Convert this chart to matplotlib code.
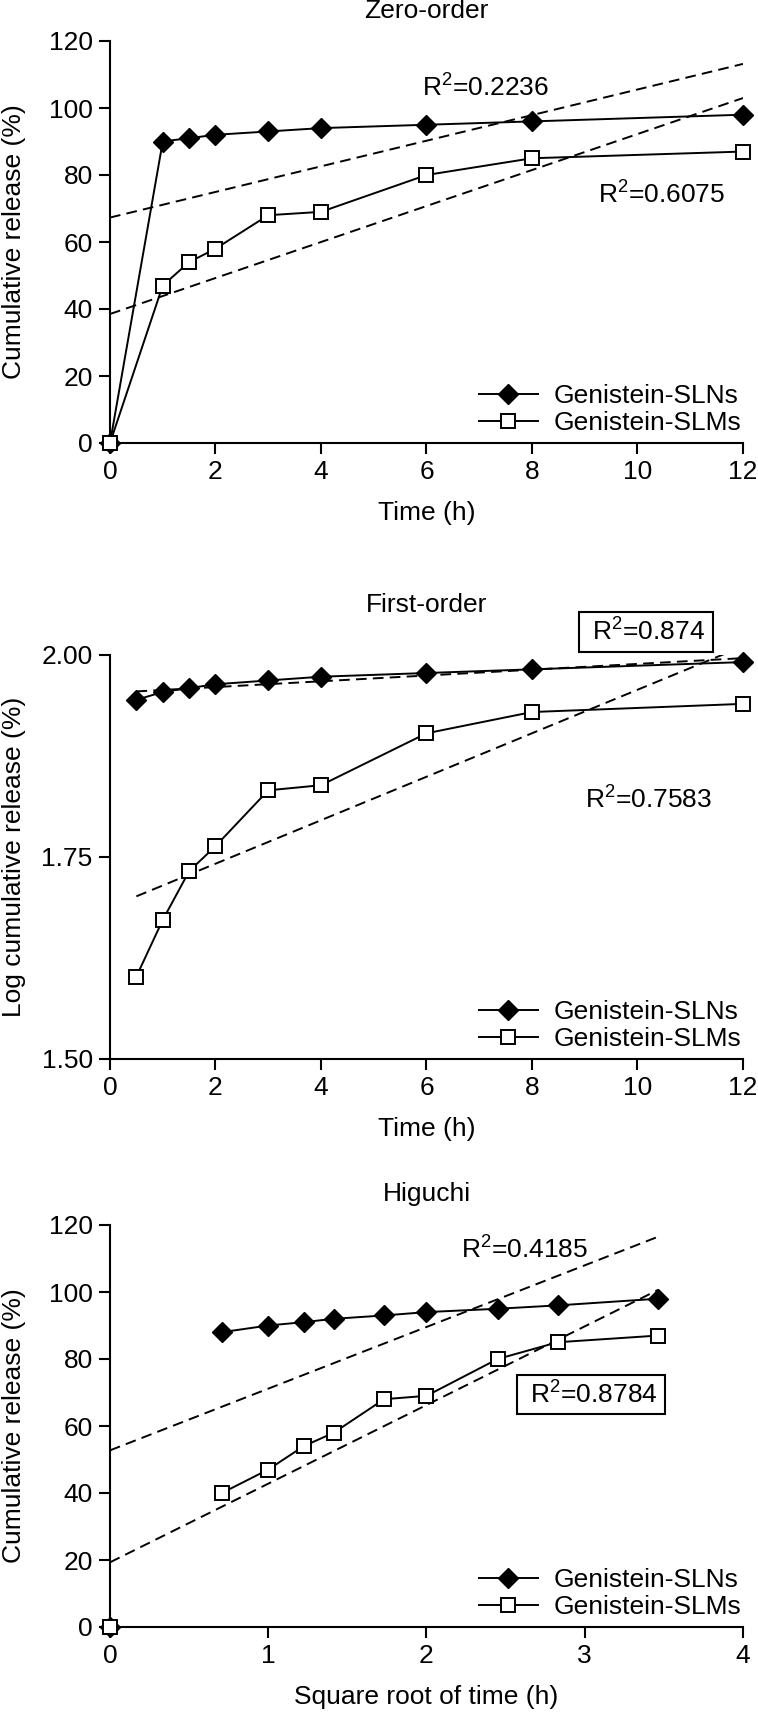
import numpy as np
import matplotlib
matplotlib.use('Agg')
import matplotlib.pyplot as plt

plt.rcParams['font.family'] = ['Liberation Sans', 'DejaVu Sans']
plt.rcParams['mathtext.default'] = 'regular'
FS = 19
plt.rcParams['font.size'] = FS

# ---------------- data ----------------
time_h = [0, 0.5, 1, 1.5, 2, 3, 4, 6, 8, 12]
sln_release = [0, 88, 90, 91, 92, 93, 94, 95, 96, 98]
slm_release = [0, 40, 47, 54, 58, 68, 69, 80, 85, 87]
series_labels = ['Genistein-SLNs', 'Genistein-SLMs']
panel_titles = ['Zero-order', 'First-order', 'Higuchi']
x_labels = ['Time (h)', 'Time (h)', 'Square root of time (h)']
y_labels = ['Cumulative release (%)', 'Log cumulative release (%)', 'Cumulative release (%)']
r2_sln = ['R$^2$=0.2236', 'R$^2$=0.874', 'R$^2$=0.4185']
r2_slm = ['R$^2$=0.6075', 'R$^2$=0.7583', 'R$^2$=0.8784']
x_ticks = [[0, 2, 4, 6, 8, 10, 12], [0, 2, 4, 6, 8, 10, 12], [0, 1, 2, 3, 4]]
y_ticks = [[0, 20, 40, 60, 80, 100, 120], [1.50, 1.75, 2.00], [0, 20, 40, 60, 80, 100, 120]]
y_tick_labels = [['0', '20', '40', '60', '80', '100', '120'], ['1.50', '1.75', '2.00'],
                 ['0', '20', '40', '60', '80', '100', '120']]

t = np.array(time_h, dtype=float)
sln = np.array(sln_release, dtype=float)
slm = np.array(slm_release, dtype=float)

FIG_W, FIG_H = 758, 1716
fig = plt.figure(figsize=(FIG_W / 100, FIG_H / 100), dpi=100)

ax_left, ax_right = 110, 743
panels_px = [(41, 443), (655, 1059), (1225, 1627)]
axes = []
for top, bottom in panels_px:
    ax = fig.add_axes([ax_left / FIG_W, 1 - bottom / FIG_H,
                       (ax_right - ax_left) / FIG_W, (bottom - top) / FIG_H])
    axes.append(ax)

line_kw = dict(color='black', lw=1.4, clip_on=False, zorder=4)
d_kw = dict(marker='D', markersize=10.5, markerfacecolor='black', markeredgecolor='black', mew=1)
s_kw = dict(marker='s', markersize=9.5, markerfacecolor='white', markeredgecolor='black', mew=1.4)
dash_kw = dict(color='black', lw=1.4, linestyle=(0, (5.5, 3.2)), zorder=3)

# Panel 1: zero-order (no 0.5 h point)
m1 = t != 0.5
x1 = t[m1]
panel_data = []
panel_data.append((x1, sln[m1], slm[m1], x1, sln[m1], slm[m1]))
# Panel 2: first-order (log)
m2 = t > 0
x2 = t[m2]
panel_data.append((x2, np.log10(sln[m2]), np.log10(slm[m2]), x2, np.log10(sln[m2]), np.log10(slm[m2])))
# Panel 3: Higuchi
x3 = np.sqrt(t)
panel_data.append((x3[m2], sln[m2], slm[m2], x3, sln, slm))

for i, ax in enumerate(axes):
    xl, ysl, ysm, xf, fsl, fsm = panel_data[i]
    # linear fits
    for fy in (fsl, fsm):
        k, b = np.polyfit(xf, fy, 1)
        xx = np.array([xf.min(), xf.max()])
        ax.plot(xx, k * xx + b, **dash_kw)
    l1, = ax.plot(xl, ysl, label=series_labels[0], **line_kw, **d_kw)
    l2, = ax.plot(xl, ysm, label=series_labels[1], **line_kw, **s_kw)
    if i == 2:
        ax.plot([x3[0]], [sln[0]], linestyle='none', clip_on=False, zorder=4, **d_kw)
        ax.plot([x3[0]], [slm[0]], linestyle='none', clip_on=False, zorder=5, **s_kw)

    ax.set_xlim(x_ticks[i][0], x_ticks[i][-1])
    ax.set_ylim(y_ticks[i][0], y_ticks[i][-1])
    ax.set_xticks(x_ticks[i])
    ax.set_yticks(y_ticks[i])
    ax.set_yticklabels(y_tick_labels[i])
    for s in ('top', 'right'):
        ax.spines[s].set_visible(False)
    for s in ('left', 'bottom'):
        ax.spines[s].set_linewidth(1.5)
    ax.tick_params(direction='out', length=8, width=1.5, labelsize=FS, pad=4.5)

    ax.legend(handles=[l1, l2], loc='lower right', bbox_to_anchor=(0.997, 0.02),
              frameon=False, borderpad=0, borderaxespad=0, handlelength=2.2,
              handletextpad=0.6, labelspacing=0.1, fontsize=FS)

    ax.text(0.5, [1.075, 1.124, 1.077][i], panel_titles[i], transform=ax.transAxes,
            ha='center', va='center', fontsize=FS)

    top, bottom = panels_px[i]
    fig.text(14 / FIG_W, 1 - (top + bottom) / 2 / FIG_H, y_labels[i], rotation=90,
             ha='center', va='center', fontsize=FS)
    fig.text((ax_left + ax_right) / 2 / FIG_W, 1 - (bottom + 70) / FIG_H, x_labels[i],
             ha='center', va='center', fontsize=FS)

# R^2 annotations
box_kw = dict(boxstyle='square,pad=0.24', fc='none', ec='black', lw=1.5)
axes[0].text(5.91, 103.4, r2_sln[0], ha='left', va='baseline', fontsize=FS)
axes[0].text(9.25, 71.6, r2_slm[0], ha='left', va='baseline', fontsize=FS)
axes[1].text(10.16, 2.0285, ' ' + r2_sln[1] + ' ', ha='center', va='center', fontsize=FS,
             bbox=box_kw, clip_on=False)
axes[1].text(9.0, 1.81, r2_slm[1], ha='left', va='baseline', fontsize=FS)
axes[2].text(2.22, 109.9, r2_sln[2], ha='left', va='baseline', fontsize=FS)
axes[2].text(3.04, 69.4, ' ' + r2_slm[2] + ' ', ha='center', va='center', fontsize=FS,
             bbox=box_kw)

fig.savefig('out.png', dpi=100, facecolor='white')
